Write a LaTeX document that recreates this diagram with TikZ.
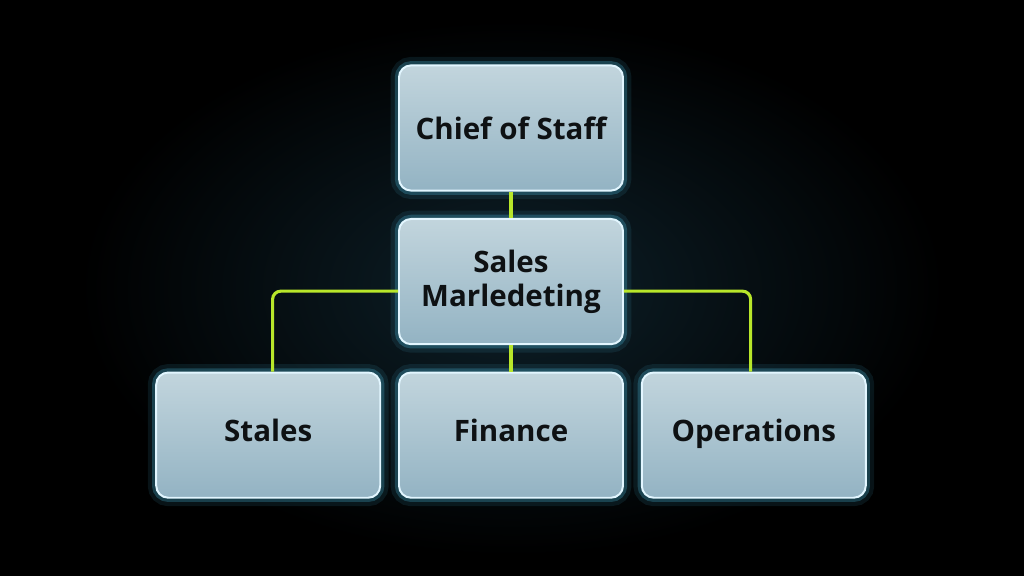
\documentclass[tikz,border=0pt]{standalone}
\usepackage{fontspec}
\setmainfont{Open Sans}
\usepackage{xcolor}
\usetikzlibrary{positioning,calc}
\definecolor{lime}{HTML}{B8E62A}
\definecolor{glow}{HTML}{4FC3E8}
\definecolor{rim}{HTML}{E2F6FF}
\definecolor{glasstop}{HTML}{C2D5DD}
\definecolor{glassbot}{HTML}{93B3C3}
\definecolor{ink}{HTML}{0E1113}
\definecolor{haze}{HTML}{0D2029}

\begin{document}
\begin{tikzpicture}[node distance=0.66cm and 0.42cm, every node/.style={font=\fontsize{21}{24}\selectfont\bfseries,align=center,text=ink},
  unit/.style={rounded corners=3mm,draw=rim,line width=1.4pt,top color=glasstop,bottom color=glassbot,minimum width=5.6cm,minimum height=3.13cm,
    preaction={draw=glow,line width=12pt,opacity=0.1},
    preaction={draw=glow,line width=6pt,opacity=0.25}},
  link/.style={draw=lime,line width=2.2pt,rounded corners=2mm}]
  % backdrop
  \fill[black] (0,0) rectangle (25.6,14.4);
  \shade[inner color=haze,outer color=black] (2,0.5) rectangle (23.6,13.9);
  \useasboundingbox (0,0) rectangle (25.6,14.4);
  % boxes
  \node[unit] (chief) at (12.775,11.2) {Chief of Staff};
  \node[unit,below=of chief] (mkt) {Sales\\Marledeting};
  \node[unit,below=of mkt] (fin) {Finance\strut};
  \node[unit,left=of fin] (sales) {Stales\strut};
  \node[unit,right=of fin] (ops) {Operations\strut};
  % links
  \draw[link] (chief.south) -- (mkt.north);
  \draw[link] (mkt.south) -- (fin.north);
  \draw[link] ([yshift=-0.24cm]mkt.west) -| ([xshift=0.11cm]sales.north);
  \draw[link] ([yshift=-0.24cm]mkt.east) -| ([xshift=-0.08cm]ops.north);
\end{tikzpicture}
\end{document}
